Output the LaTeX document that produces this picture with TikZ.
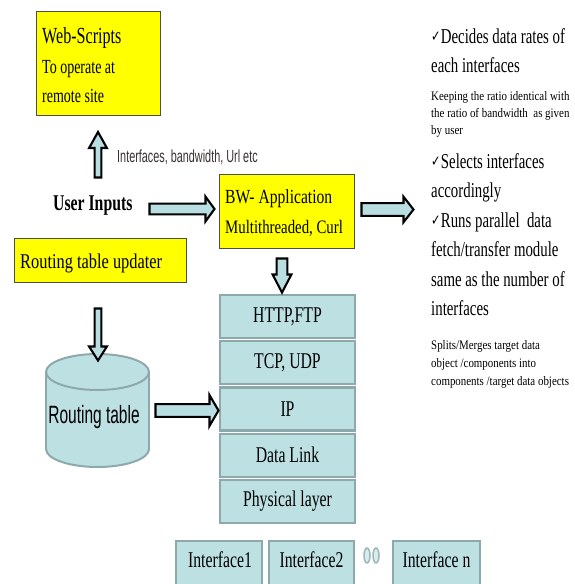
\documentclass[tikz,border=0pt]{standalone}
\usepackage{fontspec}
\usetikzlibrary{calc}
\setmainfont{Liberation Serif}
\newfontfamily\sA[FakeStretch=0.70]{Liberation Serif}
\newfontfamily\sB[FakeStretch=0.78]{Liberation Serif}
\newfontfamily\sC[FakeStretch=0.84]{Liberation Serif}
\newfontfamily\nS[FakeStretch=0.62]{Liberation Sans}
\newfontfamily\dejavu[FakeStretch=0.75]{DejaVu Sans}
\definecolor{yfill}{HTML}{FFFF00}
\definecolor{lblue}{HTML}{BDE0E3}
\definecolor{tealb}{HTML}{8EA9AB}
\definecolor{afill}{HTML}{B9DEE1}
\definecolor{ygray}{HTML}{4D4D4D}
\definecolor{dgray}{HTML}{3A3232}
\definecolor{ovalb}{HTML}{9FB7B9}
\newcommand\ck{\raisebox{1.5pt}{\dejavu\fontsize{15}{15}\selectfont ✓}\kern0.3pt}
\tikzset{
  yelbox/.style={draw=ygray, line width=1.2pt, fill=yfill, inner sep=0pt},
  layer/.style={draw=tealb, line width=2.2pt, fill=lblue, minimum width=135pt,
    minimum height=43pt, inner sep=0pt, font=\sA\fontsize{22.5}{26}\selectfont},
  ifbox/.style={draw=tealb, line width=2.2pt, fill=lblue, minimum height=60pt,
    anchor=north, inner sep=0pt},
  iflabel/.style={inner sep=0pt, anchor=base, font=\sA\fontsize{22.5}{26}\selectfont},
  txt/.style={inner sep=0pt, anchor=base west},
  bigr/.style={txt, font=\sA\fontsize{21.2}{26}\selectfont},
  smallr/.style={txt, font=\sC\fontsize{13}{16}\selectfont},
  oval/.style={draw=ovalb, line width=1.5pt, fill=lblue!60},
  cyl/.style={draw=tealb, line width=2pt, fill=lblue},
  barrow/.style n args={3}{draw=black, line width=2.1pt, fill=afill, line join=miter,
    to path={
      ($(\tikztotarget)!#3!(\tikztostart)$) coordinate (bh)
      ($(\tikztostart)!#1!90:(\tikztotarget)$)
      -- ($(bh)!#1!90:(\tikztotarget)$)
      -- ($(bh)!#2!90:(\tikztotarget)$)
      -- (\tikztotarget)
      -- ($(bh)!#2!-90:(\tikztotarget)$)
      -- ($(bh)!#1!-90:(\tikztotarget)$)
      -- ($(\tikztostart)!#1!-90:(\tikztotarget)$)
      -- cycle}}
}
\begin{document}
\begin{tikzpicture}[x=1pt,y=-1pt]
\clip (0,0) rectangle (575,584);
\fill[white] (0,0) rectangle (575,584);

% Web-Scripts box
\node[yelbox, minimum width=124pt, minimum height=104pt] (web) at (98.5,63.5) {};
\node[txt, font=\sA\fontsize{23}{26}\selectfont] (webt1) at (42,43) {Web-Scripts};
\node[txt, font=\sA\fontsize{20}{24}\selectfont] (webt2) at (42,73) {To operate at};
\node[txt, font=\sA\fontsize{20}{24}\selectfont] (webt3) at (42,102) {remote site};

% labels
\node[txt, font=\nS\fontsize{17.5}{20}\selectfont, text=dgray] (iflab) at (117,162) {Interfaces, bandwidth, Url etc};
\node[txt, font=\sA\bfseries\fontsize{22.5}{26}\selectfont] (ui) at (53,210) {User Inputs};

% BW application
\node[yelbox, minimum width=135pt, minimum height=74pt] (bw) at (287,211.5) {};
\node[txt, font=\sB\fontsize{20}{24}\selectfont] (bwt1) at (225,203) {BW- Application};
\node[txt, font=\sB\fontsize{19}{24}\selectfont] (bwt2) at (225,233) {Multithreaded, Curl};

% Routing table updater
\node[yelbox, minimum width=172pt, minimum height=44pt] (upd) at (100.5,260.5) {};
\node[txt, font=\sB\fontsize{21}{24}\selectfont] (updt) at (20,268) {Routing table updater};

% protocol stack
\node[layer] (l1) at (287.5,316.5) {HTTP,FTP};
\node[layer] (l2) at (287.5,362.7) {TCP, UDP};
\node[layer] (l3) at (287.5,408.9) {IP};
\node[layer] (l4) at (287.5,455.1) {Data Link};
\node[layer] (l5) at (287.5,501.3) {Physical layer};

% cylinder
\fill[lblue] (46,372) rectangle (149,449);
\draw[cyl] (97.5,449) ellipse [x radius=51.5, y radius=18];
\fill[lblue] (47,372) rectangle (148,449);
\draw[tealb, line width=2pt] (46,372) -- (46,449);
\draw[tealb, line width=2pt] (149,372) -- (149,449);
\draw[cyl] (97.5,372) ellipse [x radius=51.5, y radius=18];
\node[inner sep=0pt, anchor=base, font=\nS\fontsize{25}{28}\selectfont] (rtt) at (94,423) {Routing table};

% interfaces
\node[ifbox, minimum width=86pt] (if1) at (219,540) {};
\node[ifbox, minimum width=85pt] (if2) at (311.5,540) {};
\node[ifbox, minimum width=87pt] (ifn) at (436.5,540) {};
\node[iflabel] (if1t) at (220,567) {Interface1};
\node[iflabel] (if2t) at (311.5,567) {Interface2};
\node[iflabel] (ifnt) at (436.5,567) {Interface n};
\draw[oval] (367,555.5) ellipse [x radius=3, y radius=7.5];
\draw[oval] (376,555.5) ellipse [x radius=3, y radius=7.5];

% right column text
\node[bigr] (r1) at (431,43) {\ck Decides data rates of};
\node[bigr] (r2) at (431,72) {each interfaces};
\node[smallr] (r3) at (431,100) {Keeping the ratio identical with};
\node[smallr] (r4) at (431,117) {the ratio of bandwidth~ as given};
\node[smallr] (r5) at (431,134) {by user};
\node[bigr] (r6) at (431,168) {\ck Selects interfaces};
\node[bigr] (r7) at (431,197) {accordingly};
\node[bigr] (r8) at (431,227) {\ck Runs parallel~ data};
\node[bigr] (r9) at (431,256) {fetch/transfer module};
\node[bigr] (r10) at (431,286) {same as the number of};
\node[bigr] (r11) at (431,315) {interfaces};
\node[smallr] (r12) at (431,349) {Splits/Merges target data};
\node[smallr] (r13) at (431,367) {object /components into};
\node[smallr] (r14) at (431,385) {components /target data objects};

% block arrows
\coordinate (a1s) at (98,177.5);   \coordinate (a1e) at (98,132);
\coordinate (a2s) at (149.5,209);  \coordinate (a2e) at (214.5,209);
\coordinate (a3s) at (361.5,209.5); \coordinate (a3e) at (413.5,209.5);
\coordinate (a4s) at (282,258.5);  \coordinate (a4e) at (282,292.5);
\coordinate (a5s) at (98,308.5);   \coordinate (a5e) at (98,360.5);
\coordinate (a6s) at (155.5,410.5); \coordinate (a6e) at (218.5,410.5);
\draw[barrow={3.4pt}{8.9pt}{16pt}] (a1s) to (a1e);
\draw[barrow={5.4pt}{12.4pt}{9pt}] (a2s) to (a2e);
\draw[barrow={6.4pt}{12.8pt}{10pt}] (a3s) to (a3e);
\draw[barrow={5.4pt}{9.4pt}{18pt}] (a4s) to (a4e);
\draw[barrow={3.4pt}{8.9pt}{14pt}] (a5s) to (a5e);
\draw[barrow={6.4pt}{15.4pt}{9pt}] (a6s) to (a6e);
\end{tikzpicture}
\end{document}
